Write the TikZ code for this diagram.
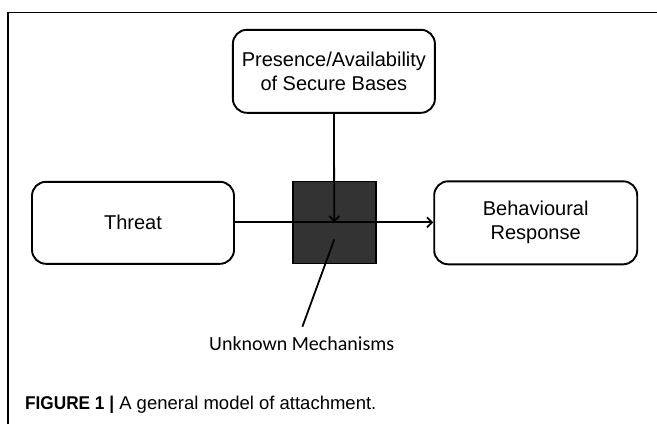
\documentclass[tikz,border=0pt]{standalone}
\usepackage{fontspec}
\setmainfont{Liberation Sans}
\newfontfamily\labelfont{Carlito}
\newfontfamily\capbold{Liberation Sans}[FakeStretch=0.93]
\usetikzlibrary{arrows.meta}
\definecolor{boxfill}{HTML}{333333}
\tikzset{
  stage/.style={draw=black, line width=1.9pt, rounded corners=14pt, fill=white,
    align=center, font=\fontsize{20}{24}\selectfont, inner sep=0pt},
  blackbox/.style={draw=black, line width=1.4pt, fill=boxfill, inner sep=0pt,
    minimum width=83pt, minimum height=82pt},
  link/.style={line width=1.8pt, black},
  flow/.style={link, -{Straight Barb[length=5pt,width=10pt,line width=1.8pt]}},
  frame/.style={line width=1.2pt, black}
}
\begin{document}
\begin{tikzpicture}[x=1pt, y=-1pt]
  \useasboundingbox (0,0) rectangle (657,424);
  % page frame
  \coordinate (fl) at (8,424);
  \coordinate (fc) at (8,12.3);
  \coordinate (fr) at (657,12.3);
  \draw[frame] (fl) -- (fc) -- (fr);

  % central mechanism box
  \node[blackbox] (mech) at (334.3,222.3) {};

  % stages
  \node[stage, minimum width=202pt, minimum height=83pt] (base) at (333.9,71.3)
    {Presence/Availability\\of Secure Bases};
  \node[stage, minimum width=202pt, minimum height=82pt] (threat) at (133,222.8) {Threat};
  \node[stage, minimum width=203pt, minimum height=83pt] (resp) at (535.7,222.8)
    {Behavioural\\Response};

  % connectors
  \coordinate (hub) at (334.3,222.3);
  \draw[link] (threat.east |- hub) -- (hub);
  \draw[flow] (hub) -- (resp.west |- hub);
  \draw[flow] (base.south) -- (hub);

  % pointer to the label
  \node[font=\labelfont\fontsize{20}{24}\selectfont, anchor=base, inner sep=0pt]
    (unk) at (301.7,350.7) {Unknown Mechanisms};
  \coordinate (tip) at (334.3,239.3);
  \coordinate (tail) at (302.4,326.7);
  \draw[link] (tip) -- (tail);

  % caption
  \node[font=\fontsize{18.5}{22}\selectfont, anchor=base west, inner sep=0pt]
    (cap) at (25,409) {{\capbold\bfseries FIGURE 1 |} A general model of attachment.};
\end{tikzpicture}
\end{document}
